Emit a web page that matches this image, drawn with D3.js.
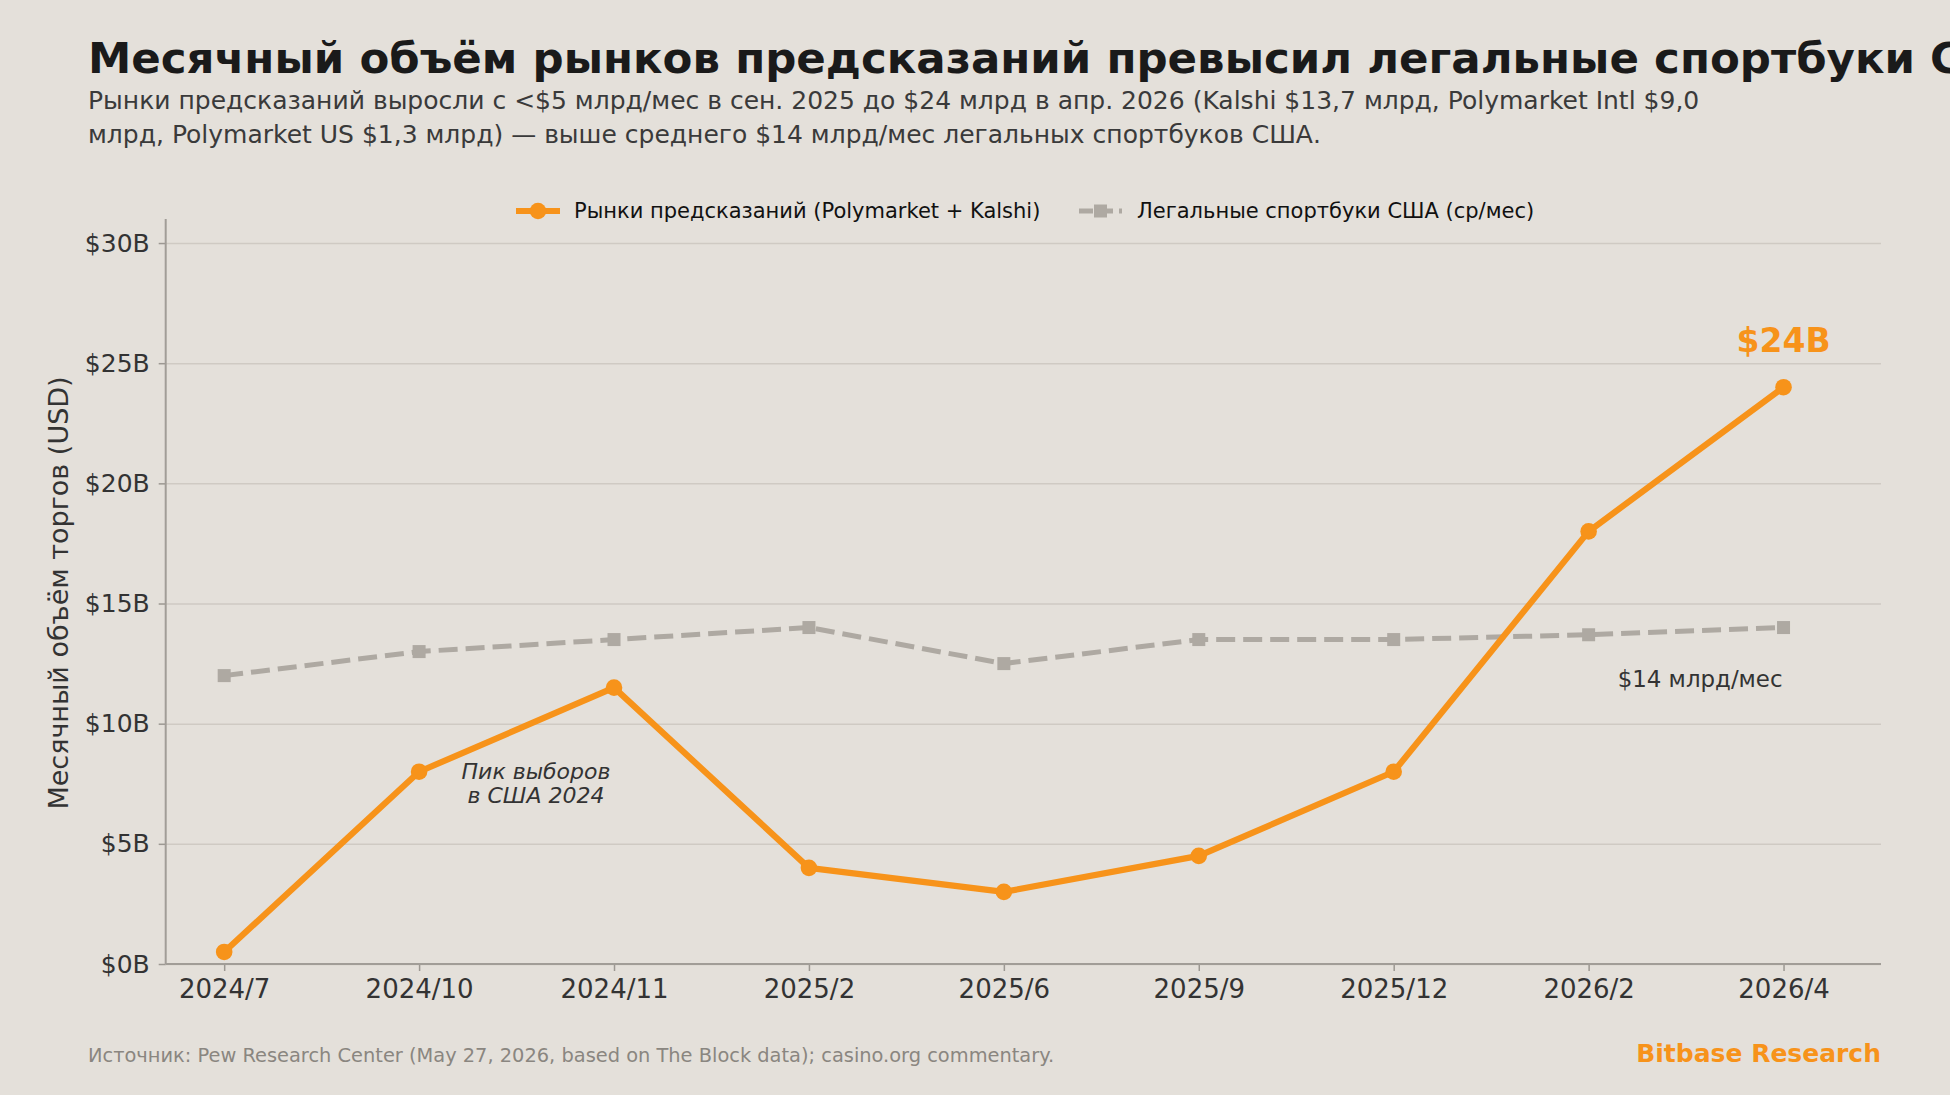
<!DOCTYPE html>
<html>
<head>
<meta charset="utf-8">
<script src="https://cdn.jsdelivr.net/npm/d3@7"></script>
<style>
  html, body { margin: 0; padding: 0; background: #e4e0da; }
  svg { display: block; font-family: "DejaVu Sans", sans-serif; }
</style>
</head>
<body>
<svg id="chart" width="1950" height="1095"></svg>
<script>
const months = ["2024/7", "2024/10", "2024/11", "2025/2", "2025/6", "2025/9", "2025/12", "2026/2", "2026/4"];
const predictionValues = [0.5, 8, 11.5, 4, 3, 4.5, 8, 18, 24];
const sportsbookValues = [12, 13, 13.5, 14, 12.5, 13.5, 13.5, 13.7, 14];
const yTicks = [0, 5, 10, 15, 20, 25, 30];

const orange = "#f7931a";
const grey = "#aea9a2";

const svg = d3.select("#chart");
svg.append("rect").attr("width", 1950).attr("height", 1095).attr("fill", "#e4e0da");

const plotLeft = 165.7, plotRight = 1881, plotTop = 219, plotBottom = 964;

const xScale = d3.scaleLinear().domain([-0.3, 8.5]).range([plotLeft, plotRight]);
const yScale = d3.scaleLinear().domain([0, 31]).range([plotBottom, plotTop]);

// titles (the reference title runs past the right edge)
svg.append("text")
    .attr("x", 88).attr("y", 73)
    .attr("font-size", 43.5).attr("font-weight", "bold").attr("fill", "#1a1a1a")
    .text("Месячный объём рынков предсказаний превысил легальные спортбуки США");

const subLines = [
    "Рынки предсказаний выросли с <$5 млрд/мес в сен. 2025 до $24 млрд в апр. 2026 (Kalshi $13,7 млрд, Polymarket Intl $9,0",
    "млрд, Polymarket US $1,3 млрд) — выше среднего $14 млрд/мес легальных спортбуков США."
];
subLines.forEach((t, i) => {
    svg.append("text")
        .attr("x", 88).attr("y", 109 + i * 34)
        .attr("font-size", 25).attr("fill", "#3a3a3a")
        .text(t);
});

// grid
const grid = svg.append("g")
    .attr("transform", `translate(${plotLeft},0)`)
    .call(d3.axisLeft(yScale).tickValues(yTicks).tickSize(-(plotRight - plotLeft)).tickFormat(""));
grid.select(".domain").remove();
grid.selectAll("line").attr("stroke", "#cfcac3").attr("stroke-width", 1.5);

// y axis
const yAxis = svg.append("g")
    .attr("transform", `translate(${plotLeft},0)`)
    .call(d3.axisLeft(yScale).tickValues(yTicks).tickSize(7).tickPadding(9).tickFormat(d => `$${d}B`));
yAxis.select(".domain").remove();
yAxis.selectAll("line").attr("stroke", "#9c9892").attr("stroke-width", 1.5);
yAxis.selectAll("text").attr("font-size", 25).attr("fill", "#333").attr("font-family", "DejaVu Sans");

// x axis
const xAxis = svg.append("g")
    .attr("transform", `translate(0,${plotBottom})`)
    .call(d3.axisBottom(xScale).tickValues(d3.range(months.length)).tickSize(7).tickPadding(9).tickFormat(i => months[i]));
xAxis.select(".domain").remove();
xAxis.selectAll("line").attr("stroke", "#9c9892").attr("stroke-width", 1.5);
xAxis.selectAll("text").attr("font-size", 26).attr("fill", "#333").attr("font-family", "DejaVu Sans");

// spines
svg.append("line").attr("x1", plotLeft).attr("x2", plotLeft).attr("y1", plotTop).attr("y2", plotBottom)
    .attr("stroke", "#a19d97").attr("stroke-width", 2);
svg.append("line").attr("x1", plotLeft).attr("x2", plotRight).attr("y1", plotBottom).attr("y2", plotBottom)
    .attr("stroke", "#a19d97").attr("stroke-width", 2);

// y label
svg.append("text")
    .attr("transform", "translate(68,593) rotate(-90)")
    .attr("text-anchor", "middle")
    .attr("font-size", 27).attr("fill", "#333")
    .text("Месячный объём торгов (USD)");

const line = d3.line().x((d, i) => xScale(i)).y(d => yScale(d));

// sportsbooks
svg.append("path")
    .datum(sportsbookValues)
    .attr("d", line)
    .attr("fill", "none")
    .attr("stroke", grey)
    .attr("stroke-width", 5)
    .attr("stroke-dasharray", "19,8");

svg.selectAll(".sq")
    .data(sportsbookValues)
    .enter().append("rect")
    .attr("class", "sq")
    .attr("x", (d, i) => xScale(i) - 6.5)
    .attr("y", d => yScale(d) - 6.5)
    .attr("width", 13).attr("height", 13)
    .attr("fill", grey);

// prediction markets
svg.append("path")
    .datum(predictionValues)
    .attr("d", line)
    .attr("fill", "none")
    .attr("stroke", orange)
    .attr("stroke-width", 6.2)
    .attr("stroke-linejoin", "round");

svg.selectAll(".dot")
    .data(predictionValues)
    .enter().append("circle")
    .attr("class", "dot")
    .attr("cx", (d, i) => xScale(i))
    .attr("cy", d => yScale(d))
    .attr("r", 8.3)
    .attr("fill", orange);

// annotations
const lastI = months.length - 1;
svg.append("text")
    .attr("x", xScale(lastI)).attr("y", 352)
    .attr("text-anchor", "middle")
    .attr("font-size", 33).attr("font-weight", "bold").attr("fill", orange)
    .text(`$${predictionValues[lastI]}B`);

svg.append("text")
    .attr("x", xScale(lastI) - 1).attr("y", 687)
    .attr("text-anchor", "end")
    .attr("font-size", 22.9).attr("fill", "#333")
    .text("$14 млрд/мес");

["Пик выборов", "в США 2024"].forEach((t, i) => {
    svg.append("text")
        .attr("x", 536).attr("y", 779 + i * 23.5)
        .attr("text-anchor", "middle")
        .attr("font-size", 22).attr("font-style", "italic").attr("fill", "#333")
        .text(t);
});

// legend
const legY = 211;
const leg = svg.append("g").attr("font-size", 21).attr("fill", "#111");
leg.append("line").attr("x1", 516).attr("x2", 560).attr("y1", legY).attr("y2", legY)
    .attr("stroke", orange).attr("stroke-width", 6.2);
leg.append("circle").attr("cx", 538).attr("cy", legY).attr("r", 8.3).attr("fill", orange);
leg.append("text").attr("x", 574).attr("y", legY).attr("dy", "0.35em")
    .text("Рынки предсказаний (Polymarket + Kalshi)");

leg.append("line").attr("x1", 1079).attr("x2", 1122).attr("y1", legY).attr("y2", legY)
    .attr("stroke", grey).attr("stroke-width", 5).attr("stroke-dasharray", "14,6");
leg.append("rect").attr("x", 1100.5 - 6.5).attr("y", legY - 6.5).attr("width", 13).attr("height", 13).attr("fill", grey);
leg.append("text").attr("x", 1137).attr("y", legY).attr("dy", "0.35em")
    .text("Легальные спортбуки США (ср/мес)");

// footer
svg.append("text")
    .attr("x", 88).attr("y", 1062)
    .attr("font-size", 19.4).attr("fill", "#8a8680")
    .text("Источник: Pew Research Center (May 27, 2026, based on The Block data); casino.org commentary.");

svg.append("text")
    .attr("x", plotRight).attr("y", 1062)
    .attr("text-anchor", "end")
    .attr("font-size", 25).attr("font-weight", "bold").attr("fill", orange)
    .text("Bitbase Research");
</script>
</body>
</html>
